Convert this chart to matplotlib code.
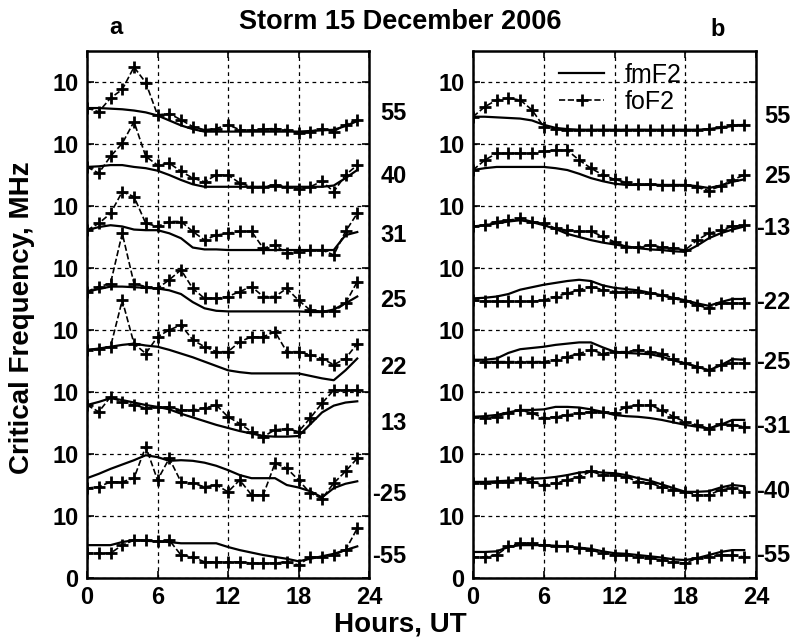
import matplotlib.pyplot as plt
import numpy as np

plt.rcParams.update({'font.family': ['Liberation Sans', 'DejaVu Sans'],
                     'font.weight': 'bold', 'font.size': 17})

hours = np.arange(24)

# panel a, curves listed from top (55) to bottom (-55), values relative to each curve's offset
lat_a = ["55", "40", "31", "25", "22", "13", "-25", "-55"]
fm_a = [
    [5.8, 5.8, 5.7, 5.6, 5.4, 5.1, 4.6, 3.8, 3.0, 2.4, 2.0, 2.0, 2.0, 2.0, 2.0, 2.0, 2.0, 2.0, 2.0, 2.1, 2.2, 2.3, 2.9, 3.7],
    [6.3, 6.4, 6.6, 6.6, 6.3, 6.1, 5.7, 5.0, 4.2, 3.5, 3.1, 3.1, 3.1, 3.1, 3.1, 3.1, 3.1, 3.1, 3.1, 3.1, 3.1, 3.3, 4.5, 5.8],
    [6.1, 6.6, 6.9, 6.7, 6.2, 6.1, 6.1, 5.6, 4.8, 3.3, 3.0, 3.0, 2.9, 2.9, 2.9, 2.9, 2.9, 2.9, 2.9, 2.9, 2.9, 2.9, 5.3, 5.8],
    [6.2, 6.6, 7.0, 7.0, 6.9, 6.8, 6.7, 6.4, 5.8, 4.5, 3.5, 3.1, 3.0, 3.0, 3.0, 3.0, 3.0, 3.0, 3.0, 2.9, 2.9, 3.3, 4.3, 5.4],
    [6.8, 7.0, 7.3, 7.6, 7.8, 7.5, 7.3, 6.8, 6.2, 5.6, 4.9, 4.2, 3.5, 3.2, 3.0, 3.0, 3.0, 3.0, 3.0, 2.6, 2.2, 1.9, 3.5, 5.4],
    [7.9, 8.4, 9.0, 8.7, 8.3, 7.9, 7.6, 7.2, 6.5, 5.9, 5.3, 4.7, 4.2, 3.7, 3.3, 2.9, 2.8, 2.8, 2.9, 4.8, 6.7, 7.8, 8.3, 8.5],
    [6.1, 6.8, 7.6, 8.3, 9.0, 9.8, 9.5, 8.9, 9.0, 8.9, 8.6, 8.1, 7.4, 6.6, 6.1, 6.1, 6.1, 5.0, 4.6, 4.0, 3.0, 4.5, 5.2, 5.6],
    [5.3, 5.3, 5.3, 5.8, 6.1, 6.0, 5.9, 5.8, 5.6, 5.6, 5.6, 5.6, 5.0, 4.5, 4.1, 3.7, 3.4, 3.1, 2.7, 3.1, 3.5, 3.9, 4.5, 5.1],
]
fo_a = [
    [5.8, 5.2, 7.4, 8.8, 12.4, 9.9, 4.7, 4.9, 3.9, 2.8, 2.3, 2.5, 3.1, 2.3, 2.2, 2.4, 2.5, 2.3, 1.8, 2.0, 2.5, 2.0, 3.1, 3.9],
    [6.3, 5.3, 8.0, 10.1, 13.6, 8.0, 6.6, 6.9, 5.6, 4.5, 3.9, 5.0, 5.0, 3.7, 3.1, 3.1, 3.4, 3.1, 2.8, 3.1, 4.0, 2.3, 5.0, 6.6],
    [6.1, 7.2, 8.8, 12.3, 11.5, 7.2, 6.7, 7.5, 7.5, 5.9, 4.5, 5.3, 5.6, 5.9, 5.9, 3.2, 3.7, 2.4, 2.6, 2.9, 2.9, 2.1, 5.9, 8.8],
    [6.2, 7.0, 7.5, 15.6, 7.5, 7.0, 6.7, 8.1, 9.7, 6.7, 5.1, 5.1, 5.4, 6.2, 7.0, 5.4, 5.4, 6.7, 4.8, 3.2, 3.0, 3.0, 4.3, 7.8],
    [6.8, 7.0, 7.3, 14.8, 7.8, 6.2, 8.9, 10.0, 10.8, 8.4, 7.3, 6.5, 6.5, 8.1, 8.9, 8.9, 9.7, 6.5, 6.5, 6.0, 5.4, 4.4, 5.4, 7.8],
    [7.9, 6.8, 9.2, 8.4, 7.9, 7.4, 7.6, 7.6, 7.1, 7.1, 7.4, 7.9, 6.0, 4.9, 3.6, 2.8, 3.9, 4.1, 3.6, 5.8, 8.2, 10.3, 10.3, 10.3],
    [4.5, 4.7, 5.5, 5.5, 6.1, 11.2, 5.8, 9.3, 5.5, 5.3, 4.7, 5.0, 3.9, 5.8, 3.4, 3.4, 8.5, 7.7, 5.8, 3.7, 2.8, 5.3, 7.2, 9.3],
    [4.0, 4.0, 4.0, 5.3, 6.1, 6.1, 5.9, 6.1, 3.7, 3.4, 2.6, 2.6, 2.6, 2.6, 2.4, 2.4, 2.4, 2.6, 2.1, 3.4, 3.4, 3.7, 4.5, 8.0],
]
label_y_a = [75.0, 64.7, 55.2, 44.8, 34.0, 25.0, 13.4, 3.4]

# panel b
lat_b = ["55", "25", "-13", "-22", "-25", "-31", "-40", "-55"]
fm_b = [
    [4.4, 4.4, 4.3, 4.2, 4.1, 3.8, 3.1, 2.6, 2.4, 2.3, 2.3, 2.3, 2.3, 2.3, 2.3, 2.3, 2.3, 2.3, 2.3, 2.3, 2.4, 2.6, 2.9, 3.1],
    [5.8, 6.1, 6.3, 6.3, 6.3, 6.3, 6.3, 6.1, 5.8, 5.2, 4.5, 4.0, 3.6, 3.4, 3.4, 3.4, 3.4, 3.4, 3.4, 3.2, 2.9, 3.3, 3.9, 4.3],
    [6.7, 6.9, 7.2, 7.5, 7.7, 7.4, 6.9, 6.3, 5.5, 5.0, 4.5, 4.1, 3.8, 3.5, 3.2, 3.0, 2.9, 2.7, 2.6, 3.6, 4.8, 5.6, 6.2, 6.7],
    [5.1, 5.2, 5.4, 5.8, 6.5, 6.9, 7.3, 7.6, 7.9, 8.1, 7.9, 7.2, 6.8, 6.6, 6.4, 6.0, 5.6, 5.2, 4.8, 4.3, 3.9, 4.5, 5.0, 5.0],
    [5.2, 5.2, 5.4, 6.3, 6.9, 7.1, 7.3, 7.6, 7.8, 8.0, 8.0, 7.2, 6.5, 6.3, 6.2, 6.1, 5.7, 5.1, 4.6, 4.1, 3.5, 4.3, 5.3, 5.2],
    [6.0, 6.1, 6.3, 6.7, 7.1, 7.1, 7.2, 7.6, 7.6, 7.5, 7.2, 6.8, 6.3, 6.1, 6.0, 5.8, 5.5, 5.1, 4.7, 4.4, 4.1, 4.7, 5.5, 5.5],
    [5.5, 5.5, 5.6, 5.7, 5.8, 6.0, 6.1, 6.3, 6.6, 7.0, 7.2, 7.0, 6.9, 6.6, 6.1, 5.7, 5.1, 4.5, 3.9, 3.9, 4.0, 4.6, 5.0, 4.8],
    [4.2, 4.2, 4.3, 5.0, 5.3, 5.3, 5.3, 5.2, 5.1, 4.9, 4.7, 4.3, 4.0, 3.9, 3.7, 3.5, 3.3, 3.0, 2.9, 3.2, 3.7, 4.2, 4.5, 4.5],
]
fo_b = [
    [4.4, 6.0, 7.1, 7.4, 7.1, 5.5, 2.8, 2.4, 2.3, 2.3, 2.3, 2.3, 2.3, 2.3, 2.3, 2.3, 2.3, 2.3, 2.3, 2.3, 2.4, 2.7, 3.1, 3.1],
    [5.8, 7.4, 8.5, 8.5, 8.5, 8.5, 8.8, 9.0, 9.0, 7.4, 6.1, 5.0, 4.3, 3.8, 3.5, 3.5, 3.4, 3.4, 3.4, 3.0, 2.5, 3.2, 4.2, 5.0],
    [6.7, 6.9, 7.5, 7.7, 8.0, 7.5, 7.2, 6.4, 6.1, 5.9, 5.9, 5.1, 4.2, 3.4, 3.4, 3.7, 3.4, 3.2, 2.9, 4.5, 5.6, 6.1, 6.7, 6.9],
    [4.8, 4.6, 4.6, 4.6, 4.6, 4.6, 4.8, 5.4, 5.9, 6.5, 7.0, 6.5, 6.2, 6.2, 6.2, 5.9, 5.6, 5.1, 4.6, 4.0, 3.5, 4.3, 4.3, 4.3],
    [5.2, 4.9, 4.9, 4.9, 4.9, 4.9, 4.9, 5.2, 5.7, 6.2, 6.8, 6.2, 6.5, 6.5, 6.8, 6.5, 6.2, 5.4, 4.6, 4.1, 3.5, 4.4, 4.6, 4.6],
    [6.0, 5.8, 6.0, 6.6, 7.1, 6.6, 5.8, 6.0, 6.3, 6.6, 6.8, 6.8, 6.6, 7.6, 7.9, 7.9, 7.1, 6.0, 5.2, 4.7, 4.1, 4.9, 4.7, 4.4],
    [5.3, 5.3, 5.5, 5.5, 6.1, 5.5, 5.0, 5.3, 5.8, 6.3, 7.2, 6.6, 6.6, 6.3, 5.5, 5.3, 4.7, 4.2, 3.9, 3.4, 3.4, 4.2, 4.5, 3.9],
    [3.4, 3.4, 3.7, 5.1, 5.6, 5.6, 5.3, 5.1, 5.1, 4.8, 4.5, 4.0, 3.7, 3.7, 3.4, 3.2, 2.9, 2.6, 2.4, 3.2, 3.4, 3.7, 3.7, 3.4],
]
label_y_b = [74.4, 64.8, 56.3, 44.4, 34.7, 24.4, 13.9, 3.7]

offsets = [70, 60, 50, 40, 30, 20, 10, 0]

fig = plt.figure(figsize=(7.96, 6.41), dpi=100)
ax_a = fig.add_axes([87 / 796, 63 / 641, 282 / 796, 527 / 641])
ax_b = fig.add_axes([473 / 796, 63 / 641, 283 / 796, 527 / 641])

panels = [(ax_a, fm_a, fo_a, lat_a, label_y_a, 27.2),
          (ax_b, fm_b, fo_b, lat_b, label_y_b, 26.9)]

for ax, fm, fo, lats, label_y, xlab in panels:
    for i in range(len(offsets)):
        l1, = ax.plot(hours, np.array(fm[i]) + offsets[i], '-', color='k', lw=1.6)
        l2, = ax.plot(hours, np.array(fo[i]) + offsets[i], '--', color='k', lw=1.2,
                      marker='+', ms=9, mew=2.0)
        ax.text(xlab, label_y[i], lats[i], ha='right', va='center', fontsize=17,
                fontweight='bold', clip_on=False)
    ax.set_xlim(0, 24)
    ax.set_ylim(0, 85)
    ax.set_xticks([0, 6, 12, 18, 24])
    ax.set_yticks(np.arange(0, 90, 10))
    ax.set_yticklabels(['0'] + ['10'] * 8)
    ax.grid(True, color='k', linestyle=(0, (3, 3)), lw=0.9)
    ax.tick_params(direction='in', length=5, width=1.2, top=True, right=True, labelsize=17, pad=6)
    for s in ax.spines.values():
        s.set_linewidth(1.8)

ax_b.legend([l1, l2], ['fmF2', 'foF2'], loc='upper center', bbox_to_anchor=(0.52, 1.01),
            frameon=False, prop={'weight': 'normal', 'size': 18}, handlelength=1.8,
            handletextpad=0.8, borderpad=0.2, labelspacing=0.1, numpoints=1)

fig.text(0.503, 1 - 22 / 641, 'Storm 15 December 2006', ha='center', va='center', fontsize=19.5, fontweight='bold')
fig.text(116 / 796, 1 - 28 / 641, 'a', ha='center', va='center', fontsize=17, fontweight='bold')
fig.text(718 / 796, 1 - 30 / 641, 'b', ha='center', va='center', fontsize=17, fontweight='bold')
fig.text(22 / 796, 0.505, 'Critical Frequency, MHz', rotation=90, ha='center', va='center',
         fontsize=20, fontweight='bold')
fig.text(0.503, 1 - 625 / 641, 'Hours, UT', ha='center', va='center', fontsize=20, fontweight='bold')

fig.savefig('out.png', dpi=100)
